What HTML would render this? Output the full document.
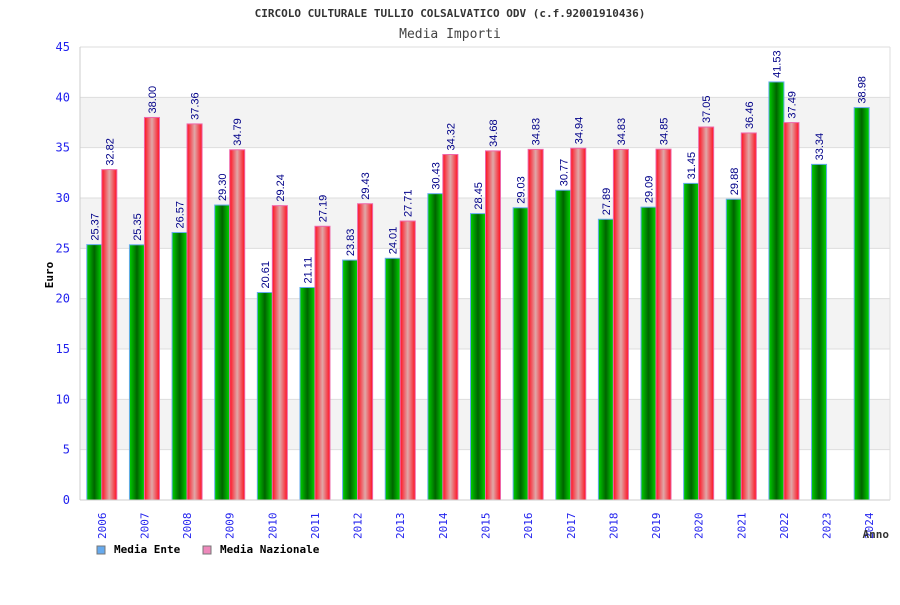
<!DOCTYPE html>
<html><head><meta charset="utf-8"><style>
body{margin:0;background:#fff;}
svg text{font-family:"DejaVu Sans Mono","Liberation Mono",monospace;}
svg text.val{font-family:"Liberation Sans",sans-serif;}
</style></head><body>
<svg id="chart" width="900" height="600" xmlns="http://www.w3.org/2000/svg">
<defs>
<linearGradient id="gG" x1="0" x2="1" y1="0" y2="0"><stop offset="0" stop-color="#00d000"/><stop offset="0.5" stop-color="#006400"/><stop offset="1" stop-color="#00d800"/></linearGradient>
<linearGradient id="gR" x1="0" x2="1" y1="0" y2="0"><stop offset="0" stop-color="#ff1020"/><stop offset="0.5" stop-color="#e0a8a8"/><stop offset="1" stop-color="#ff1020"/></linearGradient>
</defs>
<text x="450" y="17" text-anchor="middle" font-size="11" font-weight="bold" fill="#333">CIRCOLO CULTURALE TULLIO COLSALVATICO ODV (c.f.92001910436)</text>
<text x="450" y="38" text-anchor="middle" font-size="13" fill="#444">Media Importi</text>
<g id="grid"></g>
<g id="bars"></g>
<g id="axes"></g>
<text transform="translate(53,275) rotate(-90)" text-anchor="middle" font-size="11" font-weight="bold" fill="#000">Euro</text>
<text x="889" y="538" text-anchor="end" font-size="11" font-weight="bold" fill="#333">Anno</text>
<g>
<rect x="97" y="546" width="8" height="8" fill="#66aaee" stroke="#777"/>
<text x="114" y="553" font-size="11" font-weight="bold" fill="#000">Media Ente</text></g>
<g>
<rect x="203" y="546" width="8" height="8" fill="#ee88bb" stroke="#777"/>
<text x="220" y="553" font-size="11" font-weight="bold" fill="#000">Media Nazionale</text></g>
</svg>
<script>
const categories=["2006","2007","2008","2009","2010","2011","2012","2013","2014","2015","2016","2017","2018","2019","2020","2021","2022","2023","2024"];
const enteValues=[25.37,25.35,26.57,29.30,20.61,21.11,23.83,24.01,30.43,28.45,29.03,30.77,27.89,29.09,31.45,29.88,41.53,33.34,38.98];
const nazValues=[32.82,38.00,37.36,34.79,29.24,27.19,29.43,27.71,34.32,34.68,34.83,34.94,34.83,34.85,37.05,36.46,37.49,null,null];
const yTicks=[0,5,10,15,20,25,30,35,40,45];
const NS="http://www.w3.org/2000/svg";
const L=80,R=890,T=47,B=500,YMAX=45;
const y=v=>B-(v/YMAX)*(B-T);
const band=(R-L)/categories.length;
const x=i=>L+i*band;
function mk(t,a,p){const e=document.createElementNS(NS,t);for(const k in a)e.setAttribute(k,a[k]);p.appendChild(e);return e;}
const grid=document.getElementById('grid'),bars=document.getElementById('bars'),axes=document.getElementById('axes');
for(let k=0;k<yTicks.length-1;k++){
  if(k%2===1){const r=mk('rect',{x:L,y:y(yTicks[k+1]),width:R-L,height:y(yTicks[k])-y(yTicks[k+1]),fill:'#f3f3f3'},grid);
  
  }
}
yTicks.forEach(v=>{
  const l=mk('line',{x1:L,x2:R,y1:y(v),y2:y(v),stroke:'#ddd'},grid);
  
  
  const t=mk('text',{x:70,y:y(v)+4,'text-anchor':'end','font-size':'12',fill:'#2222ee'},axes);
  t.textContent=v;
  
  
});
mk('line',{x1:L,x2:L,y1:T,y2:B,stroke:'#ccc'},axes);
mk('line',{x1:L,x2:R,y1:B,y2:B,stroke:'#ccc'},axes);
mk('line',{x1:R,x2:R,y1:T,y2:B,stroke:'#ddd'},axes);
const bw=15;
function label(cx,v){
  const t=mk('text',{class:'val',transform:`translate(${cx+4},${y(v)-4}) rotate(-90)`,'font-size':'11',fill:'#000088'},bars);
  t.textContent=v.toFixed(2);
  
  
}
categories.forEach((c,i)=>{
  const cx=x(i)+band/2+0.5;
  const e=enteValues[i];
  if(e!=null){const r=mk('rect',{x:cx-bw,y:y(e),width:bw,height:B-y(e),fill:'url(#gG)',stroke:'#66aaee','stroke-width':'1'},bars);
    
    
    label(cx-bw/2,e);}
  const n=nazValues[i];
  if(n!=null){const r=mk('rect',{x:cx,y:y(n),width:bw,height:B-y(n),fill:'url(#gR)',stroke:'#ee66aa','stroke-width':'1'},bars);
    
    
    label(cx+bw/2,n);}
  const t=mk('text',{transform:`translate(${cx+4},${539}) rotate(-90)`,'font-size':'11',fill:'#2222ee'},axes);
  t.textContent=c;
  
  
});
</script>
</body></html>
